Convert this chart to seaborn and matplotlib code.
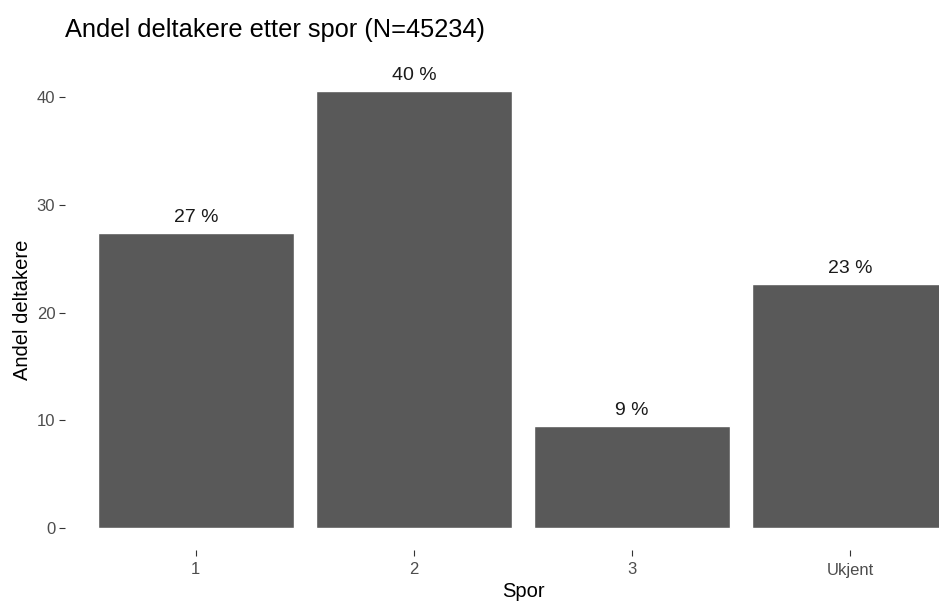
import matplotlib
matplotlib.use("Agg")
import matplotlib.pyplot as plt
import seaborn as sns
import pandas as pd

sns.set_theme(style="white")
plt.rcParams['font.family'] = ['Liberation Sans', 'DejaVu Sans']

# data
spor = ["1", "2", "3", "Ukjent"]
andel = [27.4, 40.6, 9.5, 22.7]
etiketter = ["27 %", "40 %", "9 %", "23 %"]

df = pd.DataFrame({"Spor": spor, "Andel": andel})

fig = plt.figure(figsize=(9.39, 6.02), dpi=100)
# axes reaches past the right edge, like the cropped original
ax = fig.add_axes([65 / 939, 52 / 602, 916 / 939, 481 / 602])

sns.barplot(data=df, x="Spor", y="Andel", color="#595959", saturation=1,
            width=0.9, ax=ax)
ax.bar_label(ax.containers[0], labels=etiketter, padding=5, fontsize=14,
             color="#1a1a1a")

ax.set_xlim(-0.6, 3.6)
ax.set_ylim(-0.05 * 40.6, 40.6 * 1.05)
ax.set_yticks([0, 10, 20, 30, 40])

for s in ax.spines.values():
    s.set_visible(False)
ax.tick_params(axis="both", length=4, width=0.8, color="#333333",
               labelcolor="#4d4d4d", labelsize=12, pad=3, left=True, bottom=True)
ax.tick_params(axis="x", pad=5)
ax.set_xlabel("Spor", fontsize=14.5, color="black", labelpad=3)
ax.set_ylabel("Andel deltakere", fontsize=14.5, color="black", labelpad=3)
ax.set_title("Andel deltakere etter spor (N=45234)", loc="left", fontsize=18.3,
             color="black", pad=23)
ax.grid(False)

fig.savefig("out.png", dpi=100)
